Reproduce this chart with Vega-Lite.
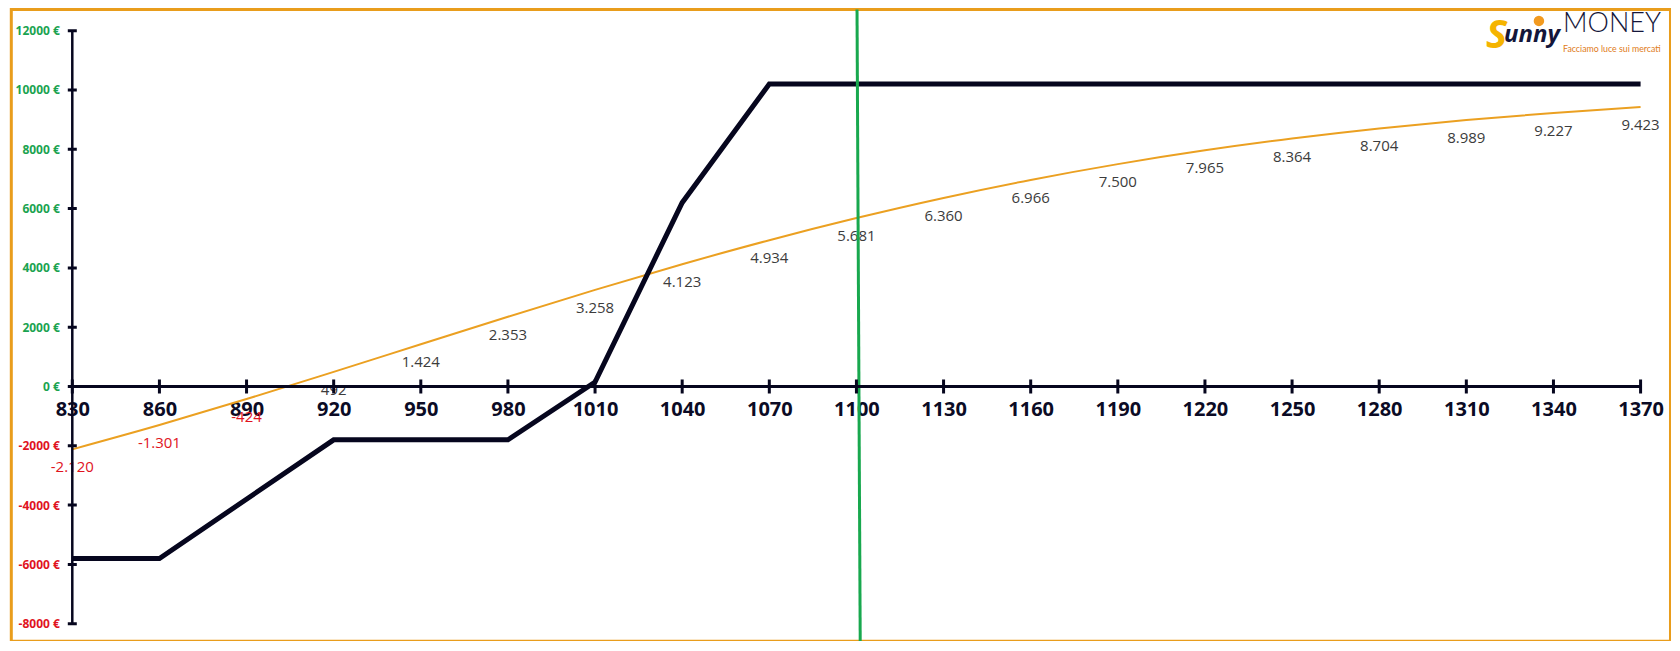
{
  "$schema": "https://vega.github.io/schema/vega-lite/v6.json",
  "width": 1659.2,
  "height": 631.8,
  "autosize": {"type": "none"},
  "padding": {"left": 11.3, "top": 9.5, "right": 0, "bottom": 0},
  "background": "white",
  "config": {
    "view": {"stroke": "#E99D1C", "strokeWidth": 3},
    "font": "Open Sans",
    "locale": {"number": {"decimal": ",", "thousands": ".", "grouping": [3], "currency": ["", " €"], "minus": "-"}}
  },
  "datasets": {
    "one": [{}],
    "today": [
      {"price": 830, "pnl": -2120},
      {"price": 860, "pnl": -1301},
      {"price": 890, "pnl": -424},
      {"price": 920, "pnl": 492},
      {"price": 950, "pnl": 1424},
      {"price": 980, "pnl": 2353},
      {"price": 1010, "pnl": 3258},
      {"price": 1040, "pnl": 4123},
      {"price": 1070, "pnl": 4934},
      {"price": 1100, "pnl": 5681},
      {"price": 1130, "pnl": 6360},
      {"price": 1160, "pnl": 6966},
      {"price": 1190, "pnl": 7500},
      {"price": 1220, "pnl": 7965},
      {"price": 1250, "pnl": 8364},
      {"price": 1280, "pnl": 8704},
      {"price": 1310, "pnl": 8989},
      {"price": 1340, "pnl": 9227},
      {"price": 1370, "pnl": 9423}
    ],
    "expiry": [
      {"price": 830, "pnl": -5800},
      {"price": 860, "pnl": -5800},
      {"price": 920, "pnl": -1800},
      {"price": 980, "pnl": -1800},
      {"price": 1010, "pnl": 150},
      {"price": 1040, "pnl": 6200},
      {"price": 1070, "pnl": 10200},
      {"price": 1370, "pnl": 10200}
    ],
    "ylevels": [
      {"pnl": -8000}, {"pnl": -6000}, {"pnl": -4000}, {"pnl": -2000}, {"pnl": 0},
      {"pnl": 2000}, {"pnl": 4000}, {"pnl": 6000}, {"pnl": 8000}, {"pnl": 10000}, {"pnl": 12000}
    ]
  },
  "layer": [
    {
      "data": {"name": "today"},
      "mark": {"type": "line", "interpolate": "monotone", "color": "#EBA021", "strokeWidth": 2},
      "encoding": {
        "x": {
          "field": "price", "type": "quantitative",
          "scale": {"domain": [809.0, 1380.3], "nice": false, "zero": false},
          "axis": {
            "values": [830, 860, 890, 920, 950, 980, 1010, 1040, 1070, 1100, 1130, 1160, 1190, 1220, 1250, 1280, 1310, 1340, 1370],
            "orient": "bottom", "offset": -254.8, "domain": false, "ticks": false, "grid": false,
            "labelFont": "Open Sans", "labelFontWeight": "bold", "labelFontSize": 20, "labelColor": "#0B0B25",
            "labelPadding": 13, "labelOverlap": false, "labelFlush": false, "title": null, "format": "d"
          }
        },
        "y": {
          "field": "pnl", "type": "quantitative",
          "scale": {"domain": [-8594, 12715], "nice": false, "zero": false},
          "axis": {
            "values": [-8000, -6000, -4000, -2000, 0, 2000, 4000, 6000, 8000, 10000, 12000],
            "orient": "left", "offset": -61, "domain": false, "ticks": false, "grid": false,
            "labelExpr": "datum.value + ' €'",
            "labelColor": {"condition": {"test": "datum.value < 0", "value": "#E0141E"}, "value": "#1AA350"},
            "labelFont": "Open Sans", "labelFontWeight": "bold", "labelFontSize": 12,
            "labelPadding": 13, "labelOverlap": false, "labelFlush": false, "title": null
          }
        }
      }
    },
    {
      "data": {"name": "expiry"},
      "mark": {"type": "line", "color": "#06061E", "strokeWidth": 5, "strokeJoin": "miter"},
      "encoding": {
        "x": {"field": "price", "type": "quantitative"},
        "y": {"field": "pnl", "type": "quantitative"}
      }
    },
    {
      "data": {"name": "today"},
      "mark": {"type": "text", "dy": 18, "fontSize": 15, "font": "Open Sans", "align": "center", "baseline": "middle"},
      "encoding": {
        "x": {"field": "price", "type": "quantitative"},
        "y": {"field": "pnl", "type": "quantitative"},
        "text": {"field": "pnl", "type": "quantitative", "format": ",d"},
        "color": {"condition": {"test": "datum.pnl < 0", "value": "#E0141E"}, "value": "#3C3C3C"}
      }
    },
    {
      "data": {"name": "one"},
      "mark": {"type": "rule", "color": "#18A84E", "strokeWidth": 3},
      "encoding": {
        "x": {"datum": 1100.2, "type": "quantitative"},
        "x2": {"datum": 1101.3},
        "y": {"datum": 12715, "type": "quantitative"},
        "y2": {"datum": -8594}
      }
    },
    {
      "data": {"name": "one"},
      "mark": {"type": "rule", "color": "#06061E", "strokeWidth": 3},
      "encoding": {
        "x": {"datum": 830, "type": "quantitative"},
        "x2": {"datum": 1370},
        "y": {"datum": 0, "type": "quantitative"}
      }
    },
    {
      "data": {"name": "one"},
      "mark": {"type": "rule", "color": "#06061E", "strokeWidth": 2.5},
      "encoding": {
        "x": {"datum": 830, "type": "quantitative"},
        "y": {"datum": -8000, "type": "quantitative"},
        "y2": {"datum": 12000}
      }
    },
    {
      "data": {"name": "today"},
      "mark": {"type": "tick", "orient": "vertical", "size": 14, "thickness": 3, "color": "#06061E", "opacity": 1},
      "encoding": {
        "x": {"field": "price", "type": "quantitative"},
        "y": {"datum": 0, "type": "quantitative"}
      }
    },
    {
      "data": {"name": "ylevels"},
      "mark": {"type": "tick", "orient": "horizontal", "size": 9, "thickness": 3, "color": "#06061E", "opacity": 1},
      "encoding": {
        "x": {"datum": 830, "type": "quantitative"},
        "y": {"field": "pnl", "type": "quantitative"}
      }
    },
    {
      "data": {"name": "one"},
      "mark": {"type": "point", "shape": "circle", "filled": true, "color": "#F29A1F", "size": 110, "opacity": 1},
      "encoding": {
        "x": {"datum": 1335.0, "type": "quantitative"},
        "y": {"datum": 12330, "type": "quantitative"}
      }
    },
    {
      "data": {"name": "one"},
      "mark": {"type": "text", "text": "S", "font": "Open Sans", "fontWeight": "bold", "fontStyle": "italic", "fontSize": 40, "color": "#F5B400", "align": "left", "baseline": "alphabetic"},
      "encoding": {
        "x": {"datum": 1316.8, "type": "quantitative"},
        "y": {"datum": 11417, "type": "quantitative"}
      }
    },
    {
      "data": {"name": "one"},
      "mark": {"type": "text", "text": "unny", "font": "Open Sans", "fontWeight": "bold", "fontStyle": "italic", "fontSize": 24, "color": "#14163A", "align": "left", "baseline": "alphabetic"},
      "encoding": {
        "x": {"datum": 1323.0, "type": "quantitative"},
        "y": {"datum": 11619, "type": "quantitative"}
      }
    },
    {
      "data": {"name": "one"},
      "mark": {"type": "text", "text": "MONEY", "font": "Lato", "fontWeight": 300, "fontSize": 27, "color": "#14163A", "align": "left", "baseline": "alphabetic"},
      "encoding": {
        "x": {"datum": 1343.3, "type": "quantitative"},
        "y": {"datum": 11956, "type": "quantitative"}
      }
    },
    {
      "data": {"name": "one"},
      "mark": {"type": "text", "text": "Facciamo luce sui mercati", "font": "Lato", "fontSize": 8.8, "color": "#E07B20", "align": "left", "baseline": "alphabetic"},
      "encoding": {
        "x": {"datum": 1343.3, "type": "quantitative"},
        "y": {"datum": 11282, "type": "quantitative"}
      }
    }
  ]
}
